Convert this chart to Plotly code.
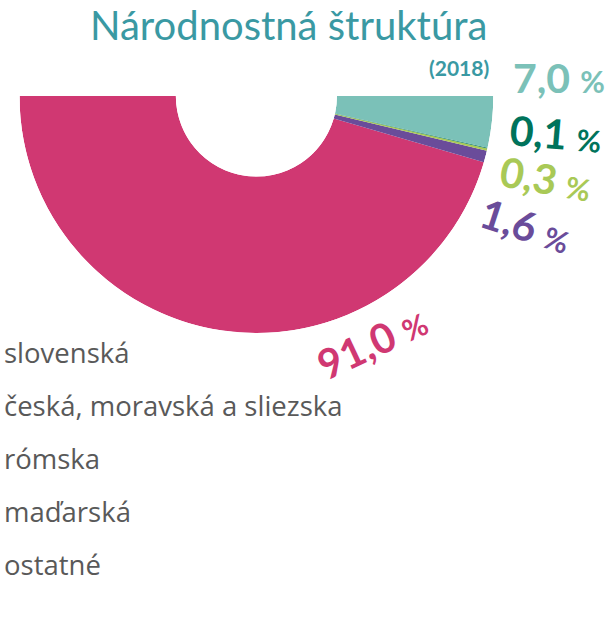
import plotly.graph_objects as go

# ---- data ----
categories = ["slovenská", "česká, moravská a sliezska", "rómska", "maďarská", "ostatné"]
values = [91.0, 1.6, 0.3, 0.1, 7.0]
value_labels = ["91,0", "1,6", "0,3", "0,1", "7,0"]
colors = ["#D03872", "#6A4C9A", "#A9C956", "#00735B", "#7BC1B8"]
title_text = "Národnostná štruktúra"
subtitle_text = "(2018)"

W, H = 611, 627
def px(x):
    return x / W
def py(y):
    return 1 - y / H

# half donut: 100 % = 180 degrees, starting at the left (180°) going through the bottom
total = sum(values)
span = 180.0
thetas, widths = [], []
start = 180.0
for v in values:
    w = v / total * span
    thetas.append(start + w / 2)
    widths.append(w)
    start += w

fig = go.Figure()
for cat, t, w, c, v in zip(categories, thetas, widths, colors, values):
    fig.add_trace(go.Barpolar(
        r=[1], theta=[t], width=[w], base=0,
        marker=dict(color=c, line=dict(width=0)),
        name=cat, showlegend=False,
        hovertemplate=f"{cat}: {v}%<extra></extra>",
    ))

annotations = []
# title
annotations.append(dict(text=title_text, x=px(288), y=py(25), xref="paper", yref="paper",
                        xanchor="center", yanchor="middle", showarrow=False,
                        font=dict(family="Lato", size=40, color="#3A99A3")))
annotations.append(dict(text="<b>" + subtitle_text + "</b>", x=px(491), y=py(67), xref="paper", yref="paper",
                        xanchor="right", yanchor="middle", showarrow=False,
                        font=dict(family="Lato", size=21, color="#3A99A3")))

# percentage labels (center px, angle)
label_pos = [(372, 342, -25), (526, 225, 18), (546, 178, 10), (556, 134, 5), (559, 78, 0)]
for lab, c, (x, y, a) in zip(value_labels, colors, label_pos):
    annotations.append(dict(
        text=f"<b>{lab} <span style='font-size:30px'>%</span></b>",
        x=px(x), y=py(y), xref="paper", yref="paper", xanchor="center", yanchor="middle",
        textangle=a, showarrow=False, font=dict(family="Lato", size=41, color=c)))

# legend texts
for i, cat in enumerate(categories):
    annotations.append(dict(text=cat, x=px(2), y=py(352 + 53 * i), xref="paper", yref="paper",
                            xanchor="left", yanchor="middle", showarrow=False,
                            font=dict(family="Open Sans", size=27.5, color="#595959")))

fig.update_layout(
    width=W, height=H,
    margin=dict(l=0, r=0, t=0, b=0),
    paper_bgcolor="white",
    plot_bgcolor="white",
    polar=dict(
        domain=dict(x=[px(19.5), px(493.3)], y=[py(333), py(96)]),
        sector=[180, 360],
        hole=0.34,
        bgcolor="rgba(0,0,0,0)",
        radialaxis=dict(visible=False, range=[0, 1]),
        angularaxis=dict(visible=False, direction="counterclockwise", rotation=0, thetaunit="degrees"),
    ),
    bargap=0,
    annotations=annotations,
)

fig.write_html("out.html", config={"displayModeBar": False},
               post_script="document.body.style.margin='0';document.body.style.overflow='hidden';")
